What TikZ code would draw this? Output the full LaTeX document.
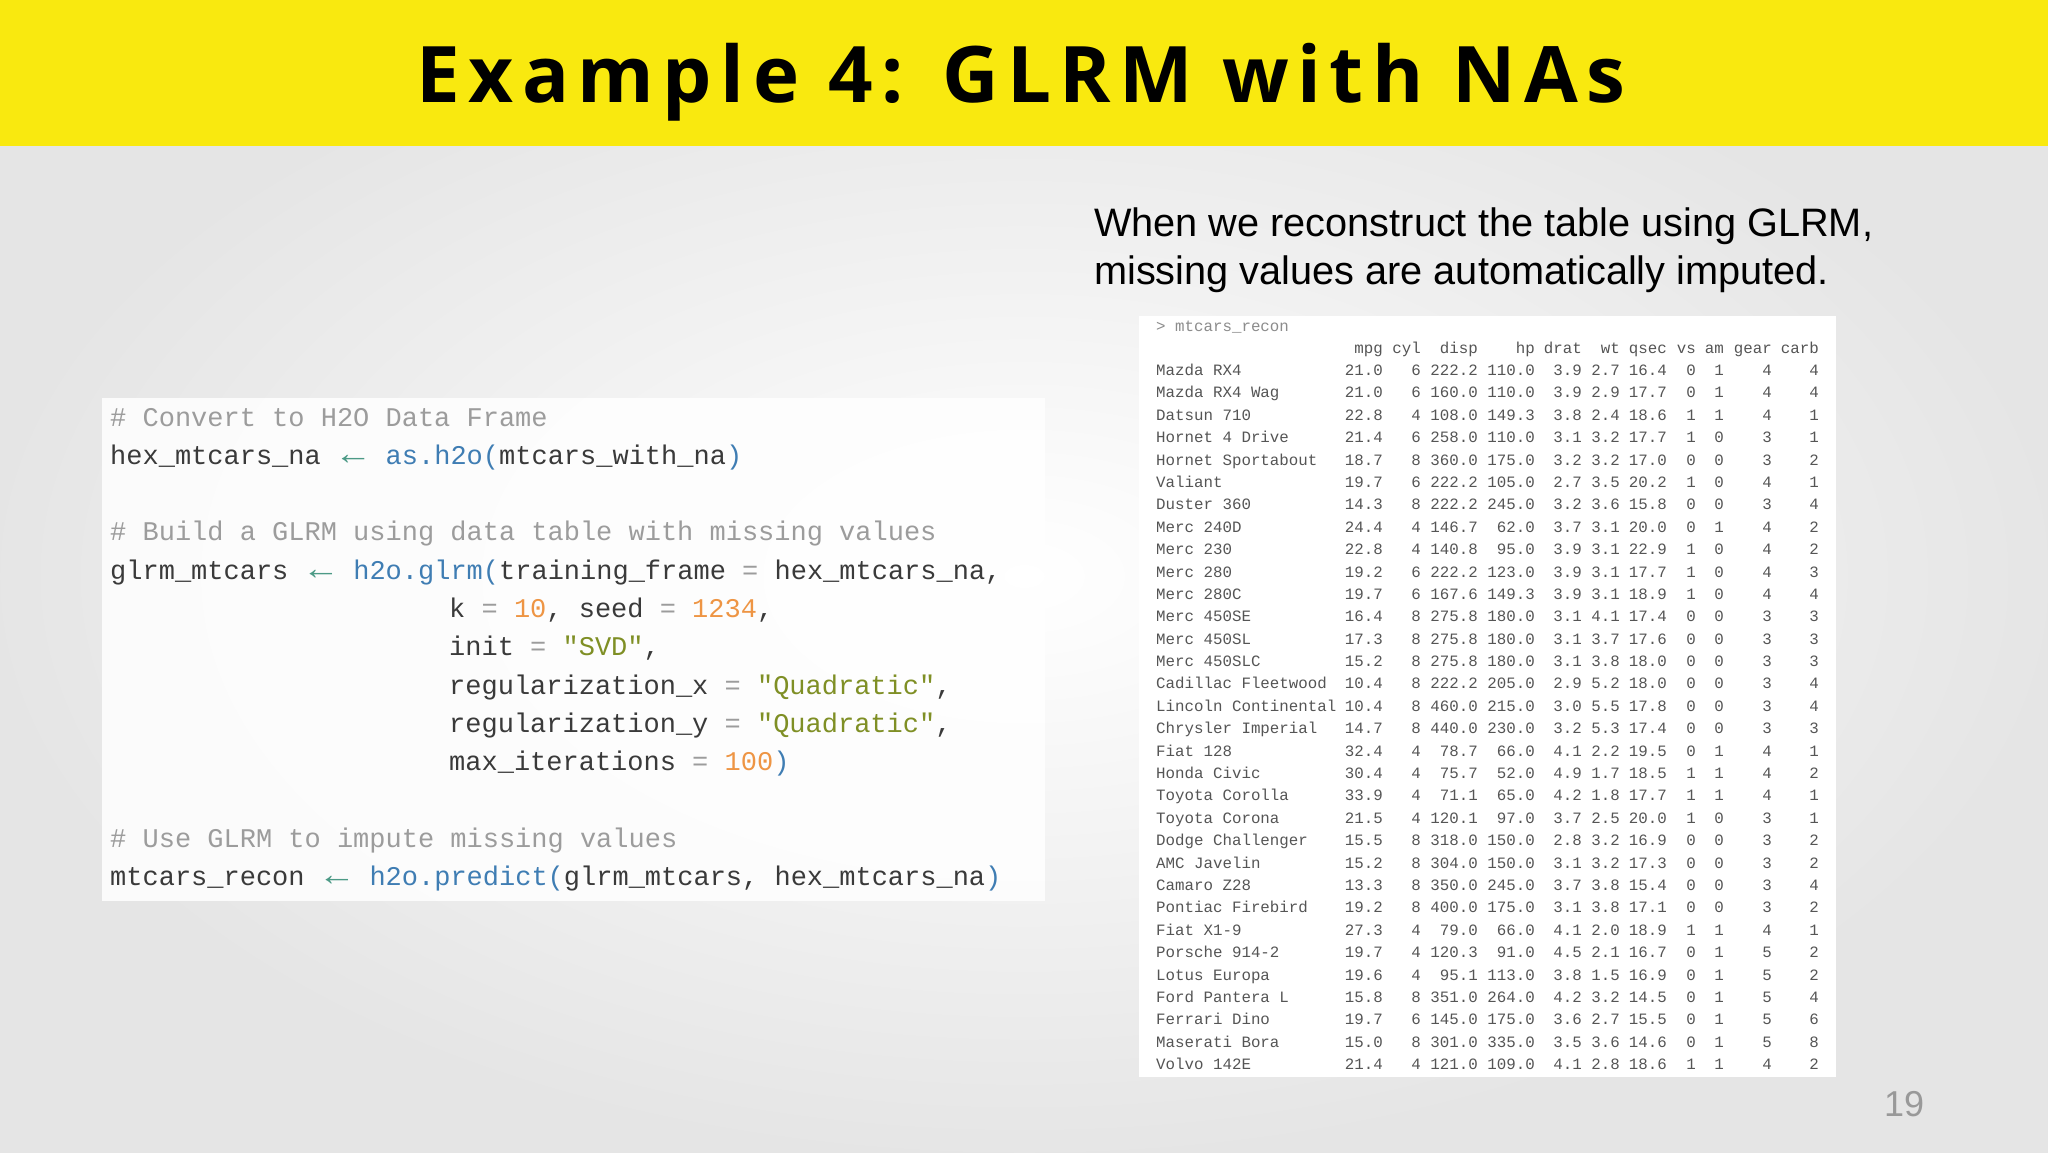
\documentclass[tikz,border=0pt]{standalone}
\usepackage{fontspec}
\setmainfont{Liberation Sans}
\setmonofont{Liberation Mono}
\newfontfamily\titlefont[LetterSpace=11]{Open Sans}
\usetikzlibrary{positioning}
\definecolor{banner}{HTML}{F9E90F}
\definecolor{cmt}{HTML}{9C9C9C}
\definecolor{idn}{HTML}{3A3A3A}
\definecolor{fn}{HTML}{3F7DB3}
\definecolor{num}{HTML}{EE9544}
\definecolor{str}{HTML}{7F8F25}
\definecolor{arr}{HTML}{4C9A86}
\definecolor{tbl}{HTML}{555555}
\newcommand{\ar}{\textcolor{arr}{\makebox[1.204em]{\scalebox{1.4}[1.2]{←}}}}
\newcommand{\eq}{\textcolor{cmt}{=}}
\begin{document}
\begin{tikzpicture}[x=1pt,y=-1pt,
  codeline/.style={anchor=base west,inner sep=0pt,font=\fontsize{27}{27}\selectfont\ttfamily,text=idn},
  cell/.style={anchor=base east,inner sep=0pt,font=\fontsize{15.8}{15.8}\selectfont\ttfamily,text=tbl},
  rname/.style={anchor=base west,inner sep=0pt,font=\fontsize{15.8}{15.8}\selectfont\ttfamily,text=tbl}]
\useasboundingbox (0,0) rectangle (2048,1152);
\shade[inner color=white,outer color=black!10] (0,0) rectangle (2048,1152);
\fill[banner] (0,0) rectangle (2048,146);
\node (title) at (1021,82) {\titlefont\bfseries\fontsize{78}{78}\selectfont Example 4: GLRM with NAs};
\node[anchor=north west,align=left,inner sep=0pt,font=\fontsize{39.7}{48}\selectfont] (desc) at (1094,208)
  {When we reconstruct the table using GLRM,\\missing values are automatically imputed.};
\node[text=black!40,font=\fontsize{36}{36}\selectfont] (page) at (1904,1104) {19};
% code box
\fill[white,opacity=0.85] (102,398) rectangle (1045,901);
\def\cy#1{426+38.3*#1}
\node[codeline,text=cmt] (c0) at (110,{\cy{0}}) {\# Convert to H2O Data Frame};
\node[codeline] (c1) at (110,{\cy{1}}) {hex\_mtcars\_na \ar{} \textcolor{fn}{as.h2o(}mtcars\_with\_na\textcolor{fn}{)}};
\node[codeline,text=cmt] (c3) at (110,{\cy{3}}) {\# Build a GLRM using data table with missing values};
\node[codeline] (c4) at (110,{\cy{4}}) {glrm\_mtcars \ar{} \textcolor{fn}{h2o.glrm(}training\_frame \eq{} hex\_mtcars\_na,};
\node[codeline] (c5) at (449,{\cy{5}}) {k \eq{} \textcolor{num}{10}, seed \eq{} \textcolor{num}{1234},};
\node[codeline] (c6) at (449,{\cy{6}}) {init \eq{} \textcolor{str}{"SVD"},};
\node[codeline] (c7) at (449,{\cy{7}}) {regularization\_x \eq{} \textcolor{str}{"Quadratic"},};
\node[codeline] (c8) at (449,{\cy{8}}) {regularization\_y \eq{} \textcolor{str}{"Quadratic"},};
\node[codeline] (c9) at (449,{\cy{9}}) {max\_iterations \eq{} \textcolor{num}{100}\textcolor{fn}{)}};
\node[codeline,text=cmt] (c10) at (110,{\cy{11}}) {\# Use GLRM to impute missing values};
\node[codeline] (c11) at (110,{\cy{12}}) {mtcars\_recon \ar{} \textcolor{fn}{h2o.predict(}glrm\_mtcars, hex\_mtcars\_na\textcolor{fn}{)}};
% table box
\fill[white] (1139,316) rectangle (1836,1077);
\node[rname,text=black!45] (prompt) at (1156,331) {> mtcars\_recon};
\foreach \t/\xx [count=\j] in {mpg/1383,cyl/1421,disp/1478,hp/1535,drat/1582,wt/1620,qsec/1667,vs/1696,am/1724,gear/1772,carb/1819}
  \node[cell] (h\j) at (\xx,353) {\t};
\foreach \n/\a/\b/\c/\d/\e/\f/\g/\h/\i/\k/\l [count=\r] in {
Mazda RX4/21.0/6/222.2/110.0/3.9/2.7/16.4/0/1/4/4,
Mazda RX4 Wag/21.0/6/160.0/110.0/3.9/2.9/17.7/0/1/4/4,
Datsun 710/22.8/4/108.0/149.3/3.8/2.4/18.6/1/1/4/1,
Hornet 4 Drive/21.4/6/258.0/110.0/3.1/3.2/17.7/1/0/3/1,
Hornet Sportabout/18.7/8/360.0/175.0/3.2/3.2/17.0/0/0/3/2,
Valiant/19.7/6/222.2/105.0/2.7/3.5/20.2/1/0/4/1,
Duster 360/14.3/8/222.2/245.0/3.2/3.6/15.8/0/0/3/4,
Merc 240D/24.4/4/146.7/62.0/3.7/3.1/20.0/0/1/4/2,
Merc 230/22.8/4/140.8/95.0/3.9/3.1/22.9/1/0/4/2,
Merc 280/19.2/6/222.2/123.0/3.9/3.1/17.7/1/0/4/3,
Merc 280C/19.7/6/167.6/149.3/3.9/3.1/18.9/1/0/4/4,
Merc 450SE/16.4/8/275.8/180.0/3.1/4.1/17.4/0/0/3/3,
Merc 450SL/17.3/8/275.8/180.0/3.1/3.7/17.6/0/0/3/3,
Merc 450SLC/15.2/8/275.8/180.0/3.1/3.8/18.0/0/0/3/3,
Cadillac Fleetwood/10.4/8/222.2/205.0/2.9/5.2/18.0/0/0/3/4,
Lincoln Continental/10.4/8/460.0/215.0/3.0/5.5/17.8/0/0/3/4,
Chrysler Imperial/14.7/8/440.0/230.0/3.2/5.3/17.4/0/0/3/3,
Fiat 128/32.4/4/78.7/66.0/4.1/2.2/19.5/0/1/4/1,
Honda Civic/30.4/4/75.7/52.0/4.9/1.7/18.5/1/1/4/2,
Toyota Corolla/33.9/4/71.1/65.0/4.2/1.8/17.7/1/1/4/1,
Toyota Corona/21.5/4/120.1/97.0/3.7/2.5/20.0/1/0/3/1,
Dodge Challenger/15.5/8/318.0/150.0/2.8/3.2/16.9/0/0/3/2,
AMC Javelin/15.2/8/304.0/150.0/3.1/3.2/17.3/0/0/3/2,
Camaro Z28/13.3/8/350.0/245.0/3.7/3.8/15.4/0/0/3/4,
Pontiac Firebird/19.2/8/400.0/175.0/3.1/3.8/17.1/0/0/3/2,
Fiat X1-9/27.3/4/79.0/66.0/4.1/2.0/18.9/1/1/4/1,
Porsche 914-2/19.7/4/120.3/91.0/4.5/2.1/16.7/0/1/5/2,
Lotus Europa/19.6/4/95.1/113.0/3.8/1.5/16.9/0/1/5/2,
Ford Pantera L/15.8/8/351.0/264.0/4.2/3.2/14.5/0/1/5/4,
Ferrari Dino/19.7/6/145.0/175.0/3.6/2.7/15.5/0/1/5/6,
Maserati Bora/15.0/8/301.0/335.0/3.5/3.6/14.6/0/1/5/8,
Volvo 142E/21.4/4/121.0/109.0/4.1/2.8/18.6/1/1/4/2}{
  \pgfmathsetmacro\yy{375.5+22.39*(\r-1)}
  \node[rname] (n\r) at (1156,\yy) {\n};
  \node[cell] (a\r) at (1383,\yy) {\a};
  \node[cell] (b\r) at (1421,\yy) {\b};
  \node[cell] (c\r) at (1478,\yy) {\c};
  \node[cell] (d\r) at (1535,\yy) {\d};
  \node[cell] (e\r) at (1582,\yy) {\e};
  \node[cell] (f\r) at (1620,\yy) {\f};
  \node[cell] (g\r) at (1667,\yy) {\g};
  \node[cell] (h\r) at (1696,\yy) {\h};
  \node[cell] (i\r) at (1724,\yy) {\i};
  \node[cell] (k\r) at (1772,\yy) {\k};
  \node[cell] (l\r) at (1819,\yy) {\l};
}
\end{tikzpicture}
\end{document}
